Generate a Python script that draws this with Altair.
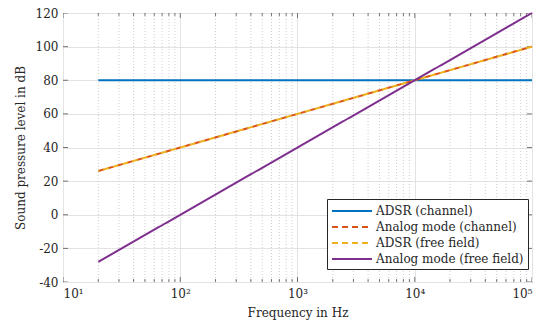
import altair as alt
import pandas as pd

# ---- data ----
series_names = ["ADSR (channel)", "Analog mode (channel)", "ADSR (free field)", "Analog mode (free field)"]
series_colors = ["#0072BD", "#D95319", "#EDB120", "#7E2F8E"]
series_dashes = [[1, 0], [6, 4], [6, 4], [1, 0]]
freq_points = [20, 100000]
adsr_channel = [80, 80]
analog_channel = [26, 100]
adsr_free = [26, 100]
analog_free = [-28, 120]

x_major = [10, 100, 1000, 10000, 100000]
x_major_labels = ["10¹", "10²", "10³", "10⁴", "10⁵"]
x_minor = [m * d for d in [10, 100, 1000, 10000] for m in range(2, 10)]
y_major = [-40, -20, 0, 20, 40, 60, 80, 100, 120]

FONT = "DejaVu Serif"
FS = 12
TXT = "#262626"
W, H = 469, 269


def series_df(name, vals):
    return pd.DataFrame({"f": freq_points, "v": vals, "s": name})


df_main = pd.concat([series_df(series_names[0], adsr_channel),
                     series_df(series_names[1], analog_channel)])
df_yel = series_df(series_names[2], adsr_free)
df_pur = series_df(series_names[3], analog_free)

label_expr = "".join(
    f"datum.value == {v} ? '{l}' : " for v, l in zip(x_major, x_major_labels)
) + "''"

xscale = alt.Scale(type="log", domain=[10, 100000], nice=False)
yscale = alt.Scale(domain=[-40, 120], nice=False, zero=False)
xaxis = alt.Axis(title="Frequency in Hz", values=x_major, labelExpr=label_expr,
                 grid=True, gridColor="#e3e3e3", gridWidth=1, ticks=False, domain=False,
                 labelPadding=6, titlePadding=8, labelFont=FONT, titleFont=FONT,
                 labelFontSize=FS, titleFontSize=FS)
yaxis = alt.Axis(title="Sound pressure level in dB", values=y_major,
                 labelExpr="'' + datum.value", grid=True, gridColor="#e3e3e3",
                 gridWidth=1, ticks=False, domain=False, labelPadding=5, titlePadding=8,
                 labelFont=FONT, titleFont=FONT, labelFontSize=FS, titleFontSize=FS)

X = alt.X("f:Q", scale=xscale, axis=xaxis)
Y = alt.Y("v:Q", scale=yscale, axis=yaxis)
leg = alt.Legend(title=None, orient="none", legendX=264, legendY=186,
                 labelFont=FONT, labelFontSize=FS)
color = alt.Color("s:N", scale=alt.Scale(domain=series_names, range=series_colors), legend=leg)
dash = alt.StrokeDash("s:N", scale=alt.Scale(domain=series_names, range=series_dashes), legend=leg)

# minor grid (dotted)
minor_grid = alt.Chart(pd.DataFrame({"f": x_minor})).mark_rule(
    color="#cfcfcf", strokeDash=[1, 2], strokeWidth=1
).encode(x=X)

# inward ticks
tick_c = "#404040"
xmaj_df = pd.DataFrame({"f": x_major})
xmin_df = pd.DataFrame({"f": x_minor})
ymaj_df = pd.DataFrame({"v": y_major})
ticks = [
    alt.Chart(xmaj_df).mark_tick(clip=True, size=10, thickness=1, color=tick_c).encode(x=X, y=alt.value(H)),
    alt.Chart(xmaj_df).mark_tick(clip=True, size=10, thickness=1, color=tick_c).encode(x=X, y=alt.value(0)),
    alt.Chart(xmin_df).mark_tick(clip=True, size=6, thickness=1, color=tick_c).encode(x=X, y=alt.value(H)),
    alt.Chart(xmin_df).mark_tick(clip=True, size=6, thickness=1, color=tick_c).encode(x=X, y=alt.value(0)),
    alt.Chart(ymaj_df).mark_tick(clip=True, size=10, thickness=1, color=tick_c).encode(y=Y, x=alt.value(0)),
    alt.Chart(ymaj_df).mark_tick(clip=True, size=10, thickness=1, color=tick_c).encode(y=Y, x=alt.value(W)),
]

lines_main = alt.Chart(df_main).mark_line(strokeWidth=2).encode(x=X, y=Y, color=color, strokeDash=dash)
lines_yel = alt.Chart(df_yel).mark_line(strokeWidth=2, strokeDashOffset=5).encode(x=X, y=Y, color=color, strokeDash=dash)
lines_pur = alt.Chart(df_pur).mark_line(strokeWidth=2).encode(x=X, y=Y, color=color, strokeDash=dash)

chart = alt.layer(minor_grid, *ticks, lines_main, lines_yel, lines_pur).properties(
    width=W, height=H, autosize="none",
    padding={"left": 55, "top": 5, "right": 15, "bottom": 40},
).configure(font=FONT).configure_view(stroke="#444444", strokeWidth=1).configure_axis(
    labelFont=FONT, titleFont=FONT, labelFontSize=FS, titleFontSize=FS,
    labelColor=TXT, titleColor=TXT, titleFontWeight="normal",
).configure_legend(
    labelFont=FONT, labelFontSize=FS, labelColor=TXT,
    symbolType="M-1,0H4.714", symbolSize=196, symbolStrokeWidth=2,
    strokeColor="#262626", fillColor="white",
    padding=4, rowPadding=2, labelOffset=29, cornerRadius=0, labelLimit=300,
)

chart.save("out.html", embed_options={"renderer": "svg", "actions": False})
